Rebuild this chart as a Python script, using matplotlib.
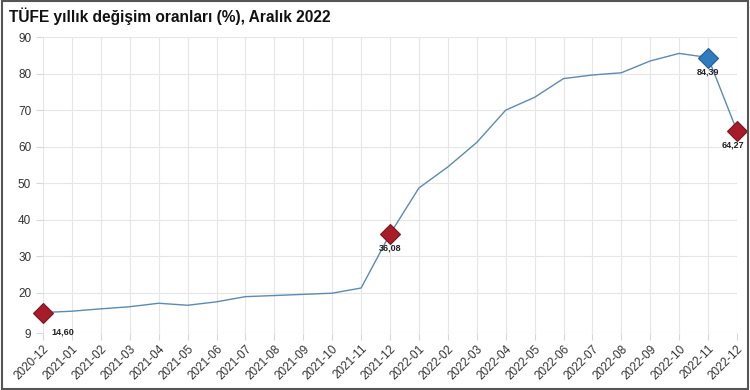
import matplotlib
matplotlib.use("Agg")
import matplotlib.pyplot as plt
from matplotlib.patches import Rectangle

months = ["2020-12", "2021-01", "2021-02", "2021-03", "2021-04", "2021-05", "2021-06",
          "2021-07", "2021-08", "2021-09", "2021-10", "2021-11", "2021-12",
          "2022-01", "2022-02", "2022-03", "2022-04", "2022-05", "2022-06",
          "2022-07", "2022-08", "2022-09", "2022-10", "2022-11", "2022-12"]
values = [14.60, 14.97, 15.61, 16.19, 17.14, 16.59, 17.53, 18.95, 19.25, 19.58, 19.89,
          21.31, 36.08, 48.69, 54.44, 61.14, 69.97, 73.50, 78.62, 79.60, 80.21, 83.45,
          85.51, 84.39, 64.27]
yticks = [9, 20, 30, 40, 50, 60, 70, 80, 90]
red_idx = [0, 12, 24]
blue_idx = [23]
title = "TÜFE yıllık değişim oranları (%), Aralık 2022"

plt.rcParams['font.family'] = ['Liberation Sans', 'DejaVu Sans']

fig = plt.figure(figsize=(7.5, 3.9), dpi=100)
ax = fig.add_axes([43/750, 57/390, 694/750, 296/390])

x = list(range(len(months)))
ax.plot(x, values, color="#5a8ab5", lw=1.0, zorder=3)
for i in red_idx:
    ax.plot(x[i], values[i], marker="D", ms=10, color="#a81c2a",
            mec="#7a1520", mew=0.8, zorder=4, clip_on=False)
for i in blue_idx:
    ax.plot(x[i], values[i], marker="D", ms=10, color="#2f7dbf",
            mec="#1f5f95", mew=0.8, zorder=4, clip_on=False)

def fmt(v):
    return f"{v:.2f}".replace(".", ",")

lab_kw = dict(fontsize=6.5, color="#222222", fontweight="bold", zorder=5)
ax.annotate(fmt(values[0]), (x[0], values[0]), xytext=(6, -11),
            textcoords="offset points", ha="left", va="top", **lab_kw)
ax.annotate(fmt(values[12]), (x[12], values[12]), xytext=(0, -7),
            textcoords="offset points", ha="center", va="top", **lab_kw)
ax.annotate(fmt(values[23]), (x[23], values[23]), xytext=(0, -7),
            textcoords="offset points", ha="center", va="top", **lab_kw)
ax.annotate(fmt(values[24]), (x[24], values[24]), xytext=(-3, -7),
            textcoords="offset points", ha="center", va="top", **lab_kw)

ax.set_xlim(0, len(months) - 1)
ax.set_ylim(9, 90)
ax.set_yticks(yticks)
ax.set_xticks(x)
ax.set_xticklabels(months, rotation=45, ha="right", rotation_mode="anchor")
ax.tick_params(axis="both", colors="#d8d8d8", labelcolor="#333333", labelsize=8.5,
               length=5, width=0.8)
ax.tick_params(axis="x", pad=2)
ax.grid(True, color="#e6e6e6", lw=0.8, zorder=0)
for s in ax.spines.values():
    s.set_visible(False)

fig.text(9/750, 1 - 16/390, title, fontsize=11.2, fontweight="bold",
         color="#111111", va="center", ha="left")

fig.patches.append(Rectangle((0.002, 0.003), 0.995, 0.994, transform=fig.transFigure,
                             fill=False, edgecolor="#555555", lw=1.5))

fig.savefig("out.png", dpi=100)
